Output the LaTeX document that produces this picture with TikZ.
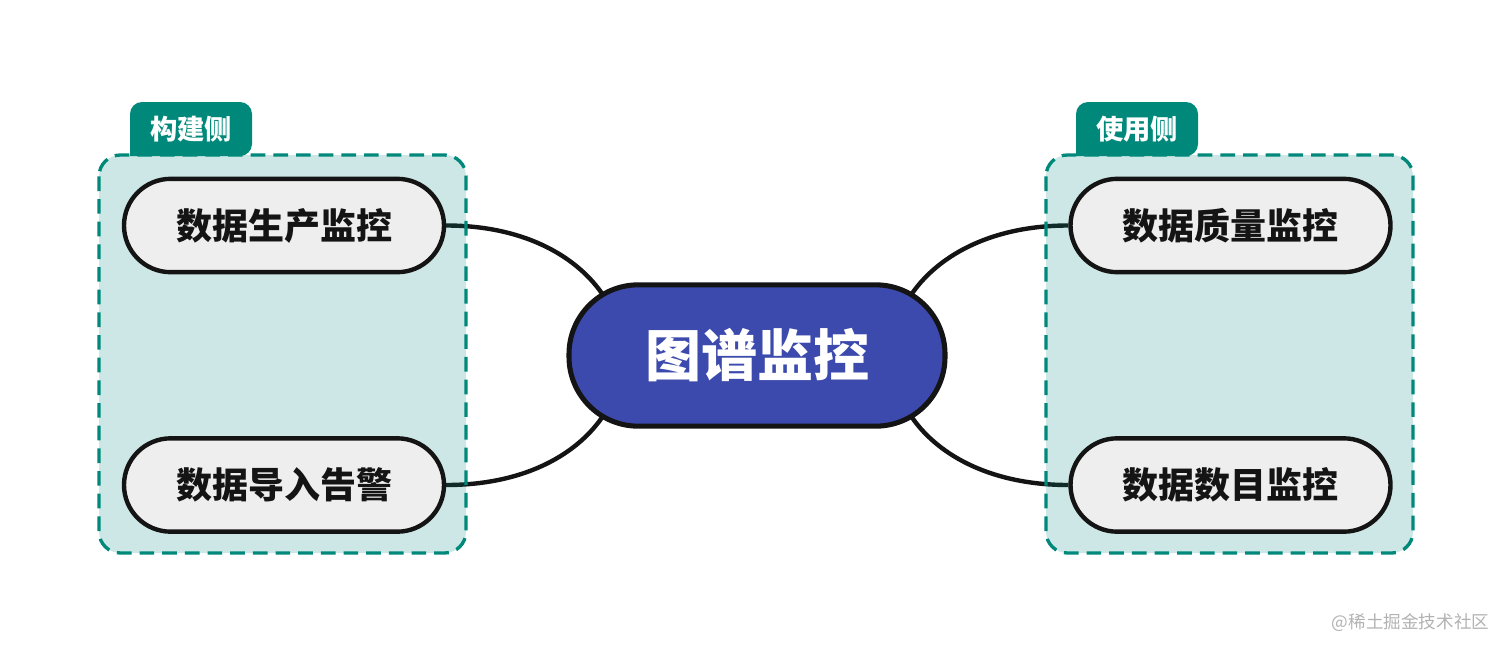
\documentclass[tikz,border=0pt]{standalone}
\usepackage{fontspec}
\newfontfamily\cjk{Noto Sans CJK SC}
\usetikzlibrary{calc}
\pgfdeclarelayer{links}
\pgfdeclarelayer{groups}
\pgfsetlayers{links,groups,main}
\definecolor{teal1}{HTML}{00897B}
\definecolor{centerblue}{HTML}{3B4AAC}
\definecolor{pillgray}{HTML}{EEEEEE}
\definecolor{ink}{HTML}{141414}
\tikzset{
  pill/.style={draw=ink, line width=3.3pt, fill=pillgray, rounded corners=35pt,
    minimum width=240pt, minimum height=70pt, inner sep=0pt,
    font=\cjk\bfseries\fontsize{27}{27}\selectfont, text=ink},
  hub/.style={draw=ink, line width=3.8pt, fill=centerblue, rounded corners=52pt,
    minimum width=282pt, minimum height=106pt, inner sep=0pt,
    font=\cjk\bfseries\fontsize{42}{42}\selectfont, text=white},
  groupbox/.style={draw=teal1, line width=2.5pt, dash pattern=on 11pt off 6pt,
    fill=teal1, fill opacity=0.2, draw opacity=1, rounded corners=16pt},
  tabbox/.style={fill=teal1, text=white, inner sep=0pt,
    font=\cjk\bfseries\fontsize{20.5}{20.5}\selectfont},
  link/.style={draw=ink, line width=3.3pt},
  wmark/.style={text=gray!60, font=\cjk\fontsize{13.2}{13.2}\selectfont, anchor=east}
}
\begin{document}
\begin{tikzpicture}[x=0.75pt,y=-0.75pt]
\useasboundingbox (0,0) rectangle (1512,653);
\node[hub] (c) at (757,355.5) {图谱监控};
\node[pill] (lt) at (284,225.5) {数据生产监控};
\node[pill] (lb) at (284,485) {数据导入告警};
\node[pill] (rt) at (1230.5,225.5) {数据质量监控};
\node[pill] (rb) at (1230.5,485) {数据数目监控};
\coordinate (c-lt) at ($(c.center)+(-155,-62)$);
\coordinate (c-lb) at ($(c.center)+(-155,62)$);
\coordinate (c-rt) at ($(c.center)+(155,-62)$);
\coordinate (c-rb) at ($(c.center)+(155,62)$);
\begin{pgfonlayer}{links}
\path[link] (lt.east) .. controls ($(lt.east)+(74,0)$) and ($(c-lt)+(-28,-40)$) .. (c-lt);
\path[link] (lb.east) .. controls ($(lb.east)+(74,0)$) and ($(c-lb)+(-28,40)$) .. (c-lb);
\path[link] (rt.west) .. controls ($(rt.west)+(-74,0)$) and ($(c-rt)+(28,-40)$) .. (c-rt);
\path[link] (rb.west) .. controls ($(rb.west)+(-74,0)$) and ($(c-rb)+(28,40)$) .. (c-rb);
\end{pgfonlayer}
\begin{pgfonlayer}{groups}
\draw[groupbox] (99,155) rectangle (466,553);
\draw[groupbox] (1046,155) rectangle (1413,553);
\fill[teal1, rounded corners=9pt] (130,156) -- (130,102) -- (252,102) -- (252,156) [sharp corners] -- cycle;
\fill[teal1, rounded corners=9pt] (1076,156) -- (1076,102) -- (1198,102) -- (1198,156) [sharp corners] -- cycle;
\end{pgfonlayer}
\node[tabbox] (tl) at (191,129) {构建侧};
\node[tabbox] (tr) at (1137,129) {使用侧};
\node[wmark] (wm) at (1494,623) {@稀土掘金技术社区};
\end{tikzpicture}
\end{document}
